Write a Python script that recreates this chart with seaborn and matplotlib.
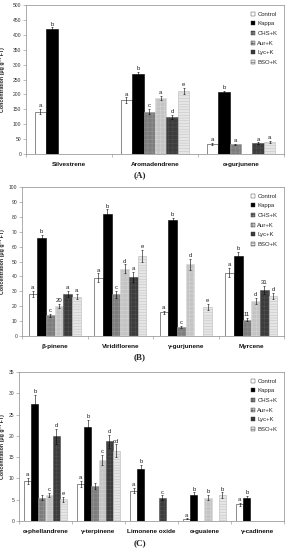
import numpy as np
import pandas as pd
import matplotlib
matplotlib.use("Agg")
import matplotlib.pyplot as plt
import seaborn as sns

# ---------------- data ----------------
treatments = ["Control", "Kappa", "CHS+K", "Aur+K", "Lyc+K", "BSO+K"]

cats_a = ["Silvestrene", "Aromadendrene", "α-gurjunene"]
vals_a = [[142, 180, 34], [420, 268, 208], [np.nan, 142, 32],
          [np.nan, 188, np.nan], [np.nan, 124, 36], [np.nan, 212, 41]]
errs_a = [[8, 10, 3], [5, 8, 3], [0, 8, 3], [0, 8, 0], [0, 8, 3], [0, 9, 3]]
lets_a = [["a", "a", "a"], ["b", "b", "b"], ["", "c", "a"],
          ["", "a", ""], ["", "d", "a"], ["", "e", "a"]]

cats_b = ["β-pinene", "Viridiflorene", "γ-gurjunene", "Myrcene"]
vals_b = [[28, 39, 16, 42.5], [66, 82, 78, 53.5], [14, 28, 6, 11],
          [20, 45, 48, 23.5], [28, 39.5, np.nan, 31], [26.5, 53.5, 19.5, 27]]
errs_b = [[2, 3, 1, 3], [2, 3, 1.5, 3], [1, 2.5, 0.5, 1],
          [1.5, 3, 3.5, 2], [2, 3.5, 0, 2.5], [2, 4, 2, 2]]
lets_b = [["a", "a", "a", "a"], ["b", "b", "b", "b"], ["c", "c", "c", "11"],
          ["20", "d", "d", "d"], ["a", "a", "", "31"], ["a", "e", "e", "d"]]

cats_c = ["α-phellandrene", "γ-terpinene", "Limonene oxide", "α-guaiene", "γ-cadinene"]
vals_c = [[9.4, 8.8, 7.1, 0.5, 3.9], [27.5, 22.1, 12.1, 6.2, 5.5],
          [5.5, 8.3, np.nan, np.nan, np.nan], [6.1, 14.3, np.nan, 5.5, np.nan],
          [19.9, 18.7, 5.5, np.nan, np.nan], [5.1, 16.5, np.nan, 6.1, np.nan]]
errs_c = [[0.8, 0.7, 0.6, 0.1, 0.3], [2.2, 1.7, 1.0, 0.5, 0.4],
          [0.5, 0.7, 0, 0, 0], [0.5, 1.2, 0, 0.6, 0],
          [1.7, 1.6, 0.5, 0, 0], [0.6, 1.5, 0, 0.6, 0]]
lets_c = [["a", "a", "a", "a", "a"], ["b", "b", "b", "b", "b"],
          ["", "", "", "", ""], ["c", "c", "", "b", ""],
          ["d", "d", "c", "", ""], ["e", "cd", "", "b", ""]]

# ---------------- style ----------------
face = {"Control": "#ffffff", "Kappa": "#000000", "CHS+K": "#7d7d7d",
        "Aur+K": "#c4c4c4", "Lyc+K": "#3c3c3c", "BSO+K": "#e6e6e6"}
hatches = {"Control": "", "Kappa": "", "CHS+K": "++++", "Aur+K": "++++",
           "Lyc+K": "++++", "BSO+K": "------"}
hatch_col = {"Control": "#555555", "Kappa": "#000000", "CHS+K": "#999999",
             "Aur+K": "#d8d8d8", "Lyc+K": "#555555", "BSO+K": "#bbbbbb"}

sns.set_theme(style="white")
plt.rcParams["font.family"] = ["Liberation Sans", "DejaVu Sans"]
plt.rcParams["hatch.linewidth"] = 0.3

W, H = 288, 550
fig = plt.figure(figsize=(W / 100, H / 100), dpi=100)

panels = [
    dict(cats=cats_a, vals=vals_a, errs=errs_a, lets=lets_a, ymax=500, step=50,
         left=26, right=284, top=5, bottom=154, lab="(A)", laby=175),
    dict(cats=cats_b, vals=vals_b, errs=errs_b, lets=lets_b, ymax=100, step=10,
         left=22, right=284, top=187, bottom=336, lab="(B)", laby=357),
    dict(cats=cats_c, vals=vals_c, errs=errs_c, lets=lets_c, ymax=35, step=5,
         left=19, right=284, top=372, bottom=521, lab="(C)", laby=543),
]

axis_col = "#8a8a8a"

for p in panels:
    ax = fig.add_axes([p["left"] / W, 1 - p["bottom"] / H,
                       (p["right"] - p["left"]) / W, (p["bottom"] - p["top"]) / H])
    rows = []
    for ti, t in enumerate(treatments):
        for ci, c in enumerate(p["cats"]):
            rows.append(dict(cat=c, trt=t, val=p["vals"][ti][ci]))
    df = pd.DataFrame(rows)
    sns.barplot(data=df, x="cat", y="val", hue="trt", order=p["cats"],
                hue_order=treatments, palette=face, width=0.8, errorbar=None,
                edgecolor="black", linewidth=0.4, ax=ax, legend=True)

    for ti, (t, cont) in enumerate(zip(treatments, ax.containers)):
        for bar in cont:
            xc = bar.get_x() + bar.get_width() / 2
            ci = int(round(xc))
            h = bar.get_height()
            if np.isnan(h):
                continue
            bar.set_hatch(hatches[t])
            bar.set_edgecolor(hatch_col[t] if t not in ("Control", "Kappa") else "black")
            if t == "Control":
                bar.set_edgecolor("#333333")
            e = p["errs"][ti][ci]
            ax.errorbar(xc, h, yerr=e, fmt="none", ecolor="black",
                        elinewidth=0.4, capsize=0.8, capthick=0.4, zorder=5)
            lt = p["lets"][ti][ci]
            if lt:
                ax.annotate(lt, (xc, h + e), xytext=(0, 0.6), textcoords="offset points",
                            ha="center", va="bottom", fontsize=4.3, color="#222222")

    ax.set_ylim(0, p["ymax"])
    ax.set_yticks(np.arange(0, p["ymax"] + 0.1, p["step"]))
    ax.set_xlim(-0.5, len(p["cats"]) - 0.5)
    ax.set_xlabel("")
    ax.set_ylabel("Concentration (μg g⁻¹ FT)", fontsize=3.8, fontweight="bold",
                  color="#222222")
    ax.yaxis.set_label_coords((5 - p["left"]) / (p["right"] - p["left"]), 0.5)
    ax.tick_params(axis="y", labelsize=3.6, length=2.5, width=0.4, pad=1,
                   colors=axis_col, labelcolor="#333333", left=True, direction="out")
    ax.tick_params(axis="x", which="major", labelsize=4.6, length=0, pad=5.5,
                   labelcolor="#111111")
    for lbl in ax.get_xticklabels():
        lbl.set_fontweight("bold")
    ax.set_xticks(np.arange(-0.5, len(p["cats"]), 1), minor=True)
    ax.tick_params(axis="x", which="minor", length=2, width=0.4, colors=axis_col,
                   bottom=True, direction="out")
    for s in ax.spines.values():
        s.set_color(axis_col)
        s.set_linewidth(0.5)
        s.set_visible(True)

    handles, labels = ax.get_legend_handles_labels()
    ax.legend(handles, labels, loc="upper right", frameon=False, fontsize=4.3,
              handlelength=0.7, handleheight=0.7, handletextpad=0.4,
              labelspacing=0.75, borderaxespad=0.7)
    for hnd, t in zip(ax.get_legend().legend_handles, treatments):
        hnd.set_hatch(hatches[t])
        hnd.set_edgecolor("#333333")
        hnd.set_linewidth(0.3)

    fig.text(140 / W, 1 - p["laby"] / H, p["lab"], ha="center", va="center",
             fontsize=6.5, fontweight="bold", family="Liberation Serif")

fig.savefig("out.png", dpi=100)
